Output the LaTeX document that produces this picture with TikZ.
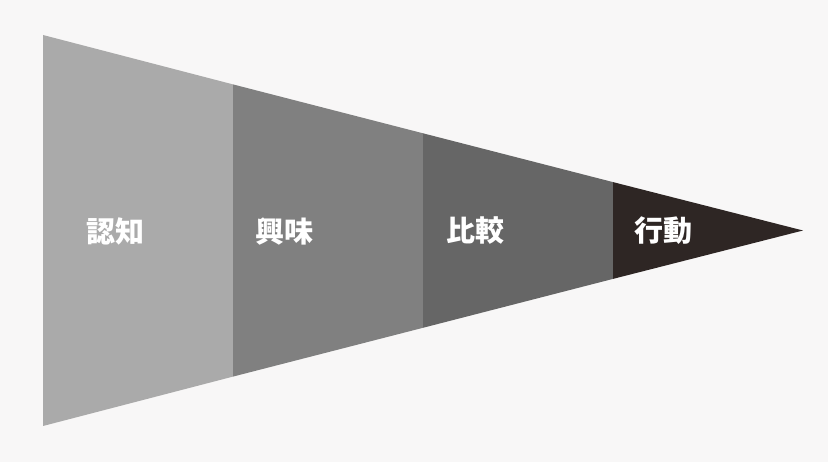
\documentclass[tikz,border=0pt]{standalone}
\usepackage{fontspec}
\newfontfamily\cjk{Noto Sans CJK JP}
\usetikzlibrary{calc}
\definecolor{fundo}{HTML}{F8F7F7}
\definecolor{cinzaA}{HTML}{AAAAAA}
\definecolor{cinzaB}{HTML}{808080}
\definecolor{cinzaC}{HTML}{666666}
\definecolor{escuro}{HTML}{2E2624}

\begin{document}
\begin{tikzpicture}[x=1pt,y=-1pt,
    rotulo/.style={anchor=west,text=white,inner sep=0pt,font=\cjk\bfseries\fontsize{29}{29}\selectfont}]
	% fundo
	\fill[fundo] (0,0) rectangle (828,462);
	\useasboundingbox (0,0) rectangle (828,462);
	% faixas do funil
	\fill[cinzaA] (43,35) -- (233,84.4) -- (233,376.6) -- (43,426) -- cycle;
	\fill[cinzaB] (233,84.4) -- (423,133.3) -- (423,327.8) -- (233,376.6) -- cycle;
	\fill[cinzaC] (423,133.3) -- (613,182.1) -- (613,278.9) -- (423,327.8) -- cycle;
	\fill[escuro] (613,182.1) -- (803,230.5) -- (613,278.9) -- cycle;
	% rotulos
	\node[rotulo] (ninshiki) at (86,231) {認知};
	\node[rotulo] (kyomi) at (255,231) {興味};
	\node[rotulo] (hikaku) at (446,231) {比較};
	\node[rotulo] (kodo) at (634,231) {行動};
\end{tikzpicture}
\end{document}
